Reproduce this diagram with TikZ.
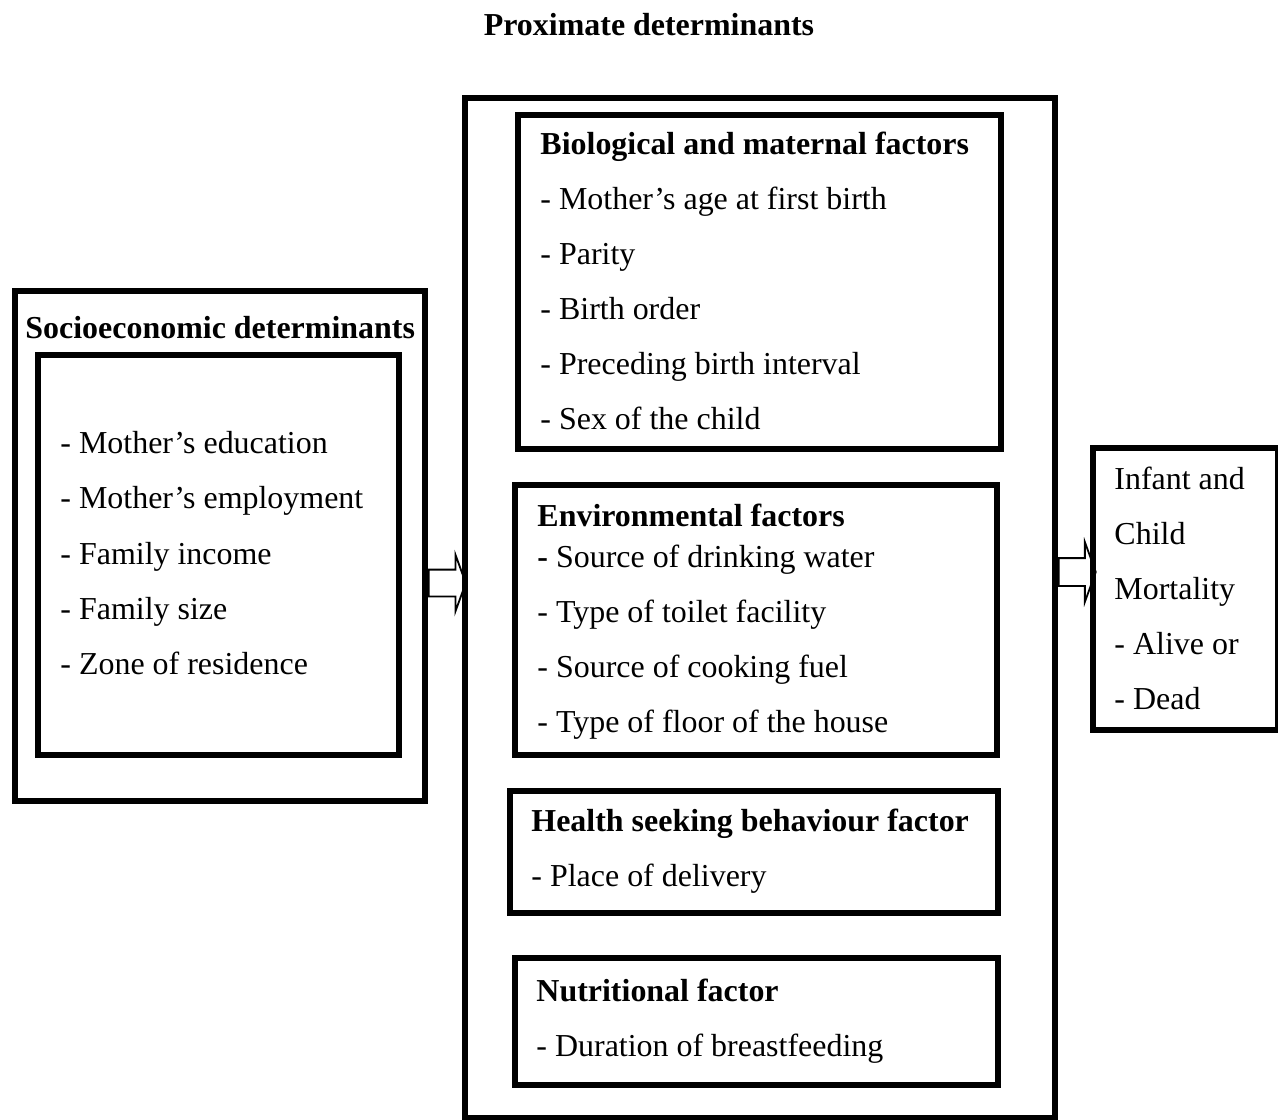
\documentclass[tikz,border=0pt]{standalone}
\usepackage{fontspec}
\setmainfont{Liberation Serif}
\usetikzlibrary{shapes.arrows}
\newcommand\pxu{0.4445pt}

\begin{document}
\begin{tikzpicture}[x=0.4445pt, y=-0.4445pt,
  frame/.style={draw, line width=2.6pt, anchor=north west, inner sep=0pt},
  item/.style={anchor=base west, inner sep=0pt, yshift=-2*\pxu, font=\fontsize{14.2}{16}\selectfont},
  headline/.style={item, font=\fontsize{14.2}{16}\selectfont\bfseries},
  fatarrow/.style={single arrow, draw, line width=0.8pt, inner xsep=0pt, anchor=tail,
    minimum height=37*\pxu, single arrow tip angle=140}]
\useasboundingbox (0,0) rectangle (1278,1119);

\node (title) at (649,36) [anchor=base, inner sep=0pt, font=\fontsize{14.2}{16}\selectfont\bfseries]
{Proximate determinants};

% socioeconomic side
\node (socio) at (12,288) [frame, minimum width=410*\pxu, minimum height=510*\pxu] {};
\node (socioin) at (35,352) [frame, minimum width=361*\pxu, minimum height=400*\pxu] {};
\node (sociohead) at (25,336) [headline] {Socioeconomic determinants};
\node (educ) at (60,451) [item] {- Mother's education};
\node (empl) at (60,506) [item] {- Mother's employment};
\node (income) at (60,562) [item] {- Family income};
\node (size) at (60,617) [item] {- Family size};
\node (zone) at (60,672) [item] {- Zone of residence};

% proximate determinants
\node (prox) at (462,95) [frame, minimum width=590*\pxu, minimum height=1020*\pxu] {};

\node (bio) at (515,112) [frame, minimum width=483*\pxu, minimum height=334*\pxu] {};
\node (biohead) at (540,152) [headline] {Biological and maternal factors};
\node (age) at (540,207) [item] {- Mother's age at first birth};
\node (parity) at (540,262) [item] {- Parity};
\node (order) at (540,317) [item] {- Birth order};
\node (interval) at (540,372) [item] {- Preceding birth interval};
\node (sex) at (540,427) [item] {- Sex of the child};

\node (env) at (512,482) [frame, minimum width=482*\pxu, minimum height=270*\pxu] {};
\node (envhead) at (537,524) [headline] {Environmental factors};
\node (water) at (537,565) [item] {\textbf{-} Source of drinking water};
\node (toilet) at (537,620) [item] {- Type of toilet facility};
\node (fuel) at (537,675) [item] {- Source of cooking fuel};
\node (floor) at (537,730) [item] {- Type of floor of the house};

\node (health) at (507,788) [frame, minimum width=488*\pxu, minimum height=122*\pxu] {};
\node (healthhead) at (531,829) [headline] {Health seeking behaviour factor};
\node (delivery) at (531,884) [item] {- Place of delivery};

\node (nutr) at (512,955) [frame, minimum width=483*\pxu, minimum height=127*\pxu] {};
\node (nutrhead) at (536,999) [headline] {Nutritional factor};
\node (breast) at (536,1054) [item] {- Duration of breastfeeding};

% outcome
\node (outcome) at (1090,445) [frame, minimum width=185*\pxu, minimum height=282*\pxu] {};
\node (infant) at (1114,487) [item] {Infant and};
\node (child) at (1114,542) [item] {Child};
\node (mort) at (1114,597) [item] {Mortality};
\node (alive) at (1114,652) [item] {- Alive or};
\node (dead) at (1114,707) [item] {- Dead};

% arrows
\node (arrowa) at (socio.east |- 0,583) [fatarrow, inner ysep=12.5*\pxu,
  single arrow head extend=15*\pxu] {};
\node (arrowb) at (prox.east |- 0,572) [fatarrow, inner ysep=13*\pxu,
  single arrow head extend=16*\pxu] {};

\end{tikzpicture}
\end{document}
